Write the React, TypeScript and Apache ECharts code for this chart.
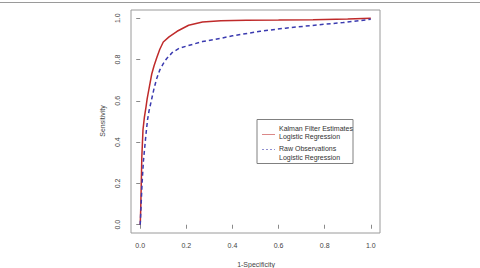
import React, { useEffect, useRef } from "react";
import * as echarts from "echarts";

// ROC curve points: [1 - specificity, sensitivity]
const kalmanFpr = [0, 0.002, 0.004, 0.007, 0.012, 0.018, 0.025, 0.03, 0.04, 0.05, 0.06, 0.072, 0.085, 0.1, 0.125, 0.16, 0.21, 0.27, 0.35, 0.46, 0.6, 0.75, 0.9, 1.0];
const kalmanTpr = [0, 0.07, 0.17, 0.33, 0.46, 0.52, 0.57, 0.61, 0.67, 0.73, 0.77, 0.81, 0.85, 0.885, 0.91, 0.937, 0.966, 0.982, 0.988, 0.99, 0.991, 0.993, 0.997, 1.0];

const rawFpr = [0, 0.004, 0.008, 0.014, 0.02, 0.026, 0.032, 0.038, 0.05, 0.06, 0.072, 0.085, 0.1, 0.115, 0.14, 0.17, 0.2, 0.27, 0.35, 0.4, 0.52, 0.63, 0.77, 0.88, 1.0];
const rawTpr = [0, 0.1, 0.2, 0.31, 0.38, 0.45, 0.51, 0.55, 0.61, 0.66, 0.71, 0.75, 0.78, 0.805, 0.835, 0.855, 0.865, 0.887, 0.903, 0.915, 0.937, 0.952, 0.968, 0.979, 0.995];

const tickValues = [0, 0.2, 0.4, 0.6, 0.8, 1.0];

const kalmanName = "Kalman Filter Estimates\nLogistic Regression";
const rawName = "Raw Observations\nLogistic Regression";

const RED = "#bf2a2a";
const BLUE = "#3b3bb0";
const FONT = "Liberation Sans, Arial, sans-serif";

export default function App() {
  const ref = useRef<HTMLDivElement>(null);

  useEffect(() => {
    document.body.style.margin = "0";
    const chart = echarts.init(ref.current!, null, { renderer: "svg" });

    const axisCommon = {
      type: "value" as const,
      min: -0.04,
      max: 1.04,
      splitLine: { show: false },
      axisLine: { show: false },
      axisTick: {
        show: true,
        customValues: tickValues,
        length: 4,
        lineStyle: { color: "#8a8a8a", width: 1 },
      },
    };

    chart.setOption({
      animation: false,
      backgroundColor: "#ffffff",
      grid: {
        left: 131,
        top: 10,
        width: 249,
        height: 223,
        show: true,
        borderColor: "#9a9a9a",
        borderWidth: 1,
        containLabel: false,
      },
      xAxis: {
        ...axisCommon,
        axisLabel: {
          customValues: tickValues,
          formatter: (v: number) => v.toFixed(1),
          fontSize: 7,
          fontFamily: FONT,
          color: "#444",
          margin: 9,
        },
      },
      yAxis: {
        ...axisCommon,
        axisLabel: {
          customValues: tickValues,
          formatter: (v: number) => v.toFixed(1),
          fontSize: 7,
          fontFamily: FONT,
          color: "#444",
          rotate: 90,
          margin: 10,
          align: "center",
          verticalAlign: "bottom",
        },
      },
      series: [
        {
          name: kalmanName,
          type: "line",
          data: kalmanFpr.map((x, i) => [x, kalmanTpr[i]]),
          showSymbol: false,
          smooth: false,
          lineStyle: { color: RED, width: 1.5 },
          z: 3,
        },
        {
          name: rawName,
          type: "line",
          data: rawFpr.map((x, i) => [x, rawTpr[i]]),
          showSymbol: false,
          smooth: false,
          lineStyle: { color: BLUE, width: 1.5, type: [4, 3] },
          z: 4,
        },
      ],
      graphic: [
        {
          type: "line",
          shape: { x1: 0, y1: 2.5, x2: 480, y2: 2.5 },
          style: { stroke: "#9a9a9a", lineWidth: 1 },
        },
        {
          type: "text",
          x: 256,
          y: 264,
          style: {
            text: "1-Specificity",
            fontSize: 7,
            fontFamily: FONT,
            fill: "#444",
            align: "center",
            verticalAlign: "middle",
          },
        },
        {
          type: "text",
          x: 102,
          y: 121,
          rotation: Math.PI / 2,
          style: {
            text: "Sensitivity",
            fontSize: 7,
            fontFamily: FONT,
            fill: "#444",
            align: "center",
            verticalAlign: "middle",
          },
        },
        {
          type: "rect",
          shape: { x: 257, y: 119.5, width: 96, height: 44 },
          style: { fill: "#fff", stroke: "#808080", lineWidth: 1 },
          z: 10,
        },
        {
          type: "line",
          shape: { x1: 262, y1: 134.5, x2: 275, y2: 134.5 },
          style: { stroke: "#d26a6a", lineWidth: 0.8 },
          z: 11,
        },
        {
          type: "line",
          shape: { x1: 262, y1: 149.5, x2: 275, y2: 149.5 },
          style: { stroke: "#7474c4", lineWidth: 0.8, lineDash: [2, 2] },
          z: 11,
        },
        {
          type: "text",
          x: 279,
          y: 132.5,
          style: {
            text: kalmanName,
            fontSize: 7,
            fontFamily: FONT,
            fill: "#333",
            lineHeight: 8.4,
            verticalAlign: "middle",
          },
          z: 11,
        },
        {
          type: "text",
          x: 279,
          y: 153,
          style: {
            text: rawName,
            fontSize: 7,
            fontFamily: FONT,
            fill: "#333",
            lineHeight: 8.4,
            verticalAlign: "middle",
          },
          z: 11,
        },
      ],
    });

    return () => chart.dispose();
  }, []);

  return <div ref={ref} style={{ width: 480, height: 268 }} />;
}
